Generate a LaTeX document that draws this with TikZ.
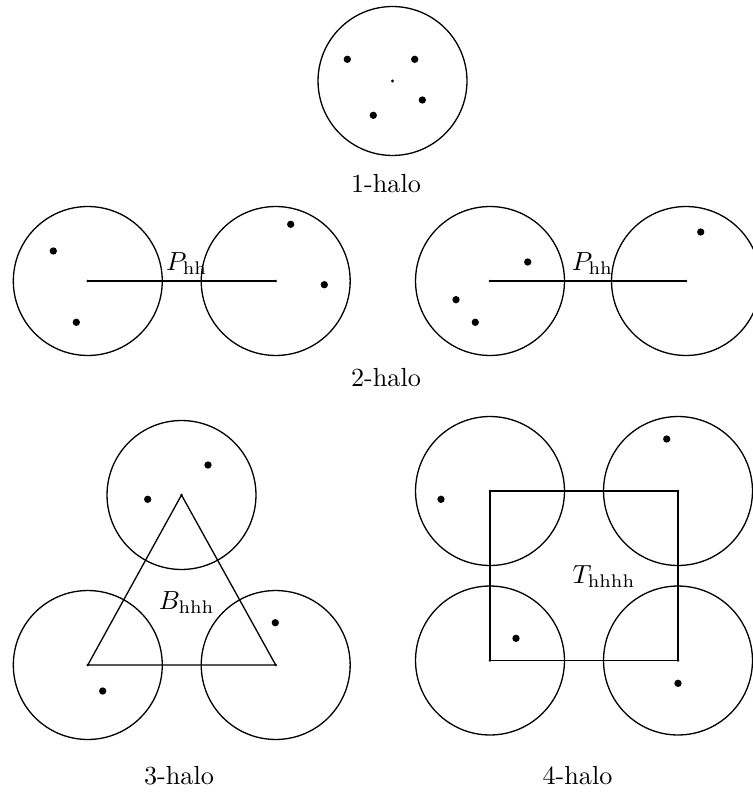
\documentclass[tikz,border=0pt]{standalone}
\begin{document}
\begin{tikzpicture}[x=0.013423cm,y=-0.013423cm,
  halo/.style={circle,draw,line width=0.5pt,minimum size=2cm,inner sep=0pt,outer sep=0pt},
  pt/.style={fill=black},
  lbl/.style={anchor=base,inner sep=0pt},
  link/.style={line width=0.5pt}]
\useasboundingbox (0,0) rectangle (752,792);
% 1-halo
\node[halo] (h1) at (392.5,81) {};
\fill[pt] (h1.center) circle[radius=0.6pt];
\foreach \p in {(347.3,59.3),(414.7,59.3),(422.3,100),(373.3,115.3)} \fill[pt] \p circle[radius=1.4pt];
\node[lbl] (l1) at (386,193) {1-halo};
% 2-halo left
\node[halo] (a1) at (87.8,281) {};
\node[halo] (a2) at (275.7,281) {};
\draw[link] (a1.center) -- (a2.center);
\fill[pt] (a1.center) circle[radius=0.5pt] (a2.center) circle[radius=0.5pt];
\node[lbl] (pa) at (186.7,270.7) {$P_{\mathrm{hh}}$};
\foreach \p in {(53.3,251),(76.3,322.3),(290.7,224.3),(324.3,284.7)} \fill[pt] \p circle[radius=1.4pt];
% 2-halo right
\node[halo] (b1) at (490,281) {};
\node[halo] (b2) at (686,281) {};
\draw[link] (b1.center) -- (b2.center);
\fill[pt] (b1.center) circle[radius=0.5pt] (b2.center) circle[radius=0.5pt];
\node[lbl] (pb) at (592.5,270.7) {$P_{\mathrm{hh}}$};
\foreach \p in {(527.7,262),(456,299.7),(475.3,322.3),(700.7,232)} \fill[pt] \p circle[radius=1.4pt];
\node[lbl] (l2) at (386,386) {2-halo};
% 3-halo
\node[halo] (t1) at (181.5,495) {};
\node[halo] (t2) at (87.8,665) {};
\node[halo] (t3) at (275.7,665) {};
\draw[link] (t1.center) -- (t2.center) -- (t3.center) -- cycle;
\fill[pt] (t1.center) circle[radius=0.5pt] (t2.center) circle[radius=0.5pt] (t3.center) circle[radius=0.5pt];
\foreach \p in {(208,465),(147.7,499.3),(275.3,622.7),(102.7,691)} \fill[pt] \p circle[radius=1.4pt];
\node[lbl] (bt) at (186.7,609.3) {$B_{\mathrm{hhh}}$};
\node[lbl] (l3) at (179,784) {3-halo};
% 4-halo
\node[halo] (q1) at (490,491) {};
\node[halo] (q2) at (678,491) {};
\node[halo] (q3) at (490,660.5) {};
\node[halo] (q4) at (678,660.5) {};
\draw[link] (q1.center) -- (q2.center) -- (q4.center) -- (q3.center) -- cycle;
\fill[pt] (q1.center) circle[radius=0.5pt] (q2.center) circle[radius=0.5pt] (q3.center) circle[radius=0.5pt] (q4.center) circle[radius=0.5pt];
\foreach \p in {(666.7,439),(441,499.3),(516,638.3),(678,683.3)} \fill[pt] \p circle[radius=1.4pt];
\node[lbl] (tt) at (604,583.3) {$T_{\mathrm{hhhh}}$};
\node[lbl] (l4) at (577.5,784) {4-halo};
\end{tikzpicture}
\end{document}
